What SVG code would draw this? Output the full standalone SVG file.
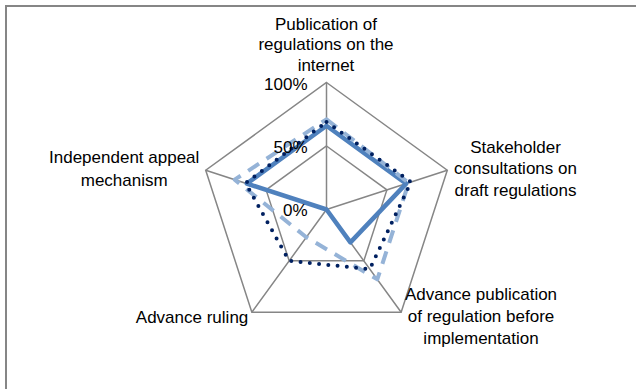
<svg xmlns="http://www.w3.org/2000/svg" width="636" height="389" viewBox="0 0 636 389">
<style>
.lbl{font-family:"Liberation Sans",Arial,sans-serif;font-size:17px;fill:#000}
.mid{text-anchor:middle}
.end{text-anchor:end}
.grid{fill:none;stroke:#868686;stroke-width:1.5}
.s1{fill:none;stroke:#4F81BD;stroke-width:4.5;stroke-linejoin:round}
.s2{fill:none;stroke:#95B3D7;stroke-width:4;stroke-dasharray:13 9;stroke-linejoin:round}
.s3{fill:none;stroke:#002060;stroke-width:4;stroke-dasharray:0 9.3;stroke-linecap:round;stroke-linejoin:round}
</style>
<rect x="0" y="0" width="636" height="389" fill="#fff"/>
<path d="M6,389 V6 H636" fill="none" stroke="#868686" stroke-width="2"/>
<g id="grid">
<polygon class="grid" points="326.5,82.5 447.29,170.26 401.15,312.24 251.85,312.24 205.71,170.26"/>
<polygon class="grid" points="326.5,146 386.89,189.88 363.83,260.87 289.17,260.87 266.11,189.88"/>
<path class="grid" d="M326.5,209.5 L326.5,82.5 M326.5,209.5 L447.29,170.26 M326.5,209.5 L401.15,312.24 M326.5,209.5 L251.85,312.24 M326.5,209.5 L205.71,170.26"/>
</g>
<g id="series">
<polygon class="s1" points="326.5,125.7 406.2,183.6 350.4,242.4 326.5,209.5 246.8,183.6"/>
<polygon class="s2" points="326.5,119.3 408.7,182.8 377.3,279.4 306.3,237.2 234.7,179.7"/>
<polygon class="s3" points="326.5,121.9 411.05,182.03 369.8,269.1 289.2,260.9 245.6,183.2"/>
</g>
<g id="ticks">
<text class="lbl end" x="307.5" y="90">100%</text>
<text class="lbl end" x="307.5" y="153">50%</text>
<text class="lbl end" x="307.5" y="215.5">0%</text>
</g>
<g id="node-top">
<text class="lbl mid" x="326" y="29.5">Publication of</text>
<text class="lbl mid" x="326" y="50.3">regulations on the</text>
<text class="lbl mid" x="326" y="71">internet</text>
</g>
<g id="node-right">
<text class="lbl mid" x="515.5" y="152.5">Stakeholder</text>
<text class="lbl mid" x="515.5" y="174">consultations on</text>
<text class="lbl mid" x="515.5" y="195.5">draft regulations</text>
</g>
<g id="node-bottom-right">
<text class="lbl mid" x="481" y="299.5">Advance publication</text>
<text class="lbl mid" x="481" y="321.7">of regulation before</text>
<text class="lbl mid" x="481" y="344">implementation</text>
</g>
<g id="node-bottom-left">
<text class="lbl end" x="248.3" y="322.7">Advance ruling</text>
</g>
<g id="node-left">
<text class="lbl mid" x="124.2" y="163.3">Independent appeal</text>
<text class="lbl mid" x="124.2" y="185.7">mechanism</text>
</g>
</svg>
